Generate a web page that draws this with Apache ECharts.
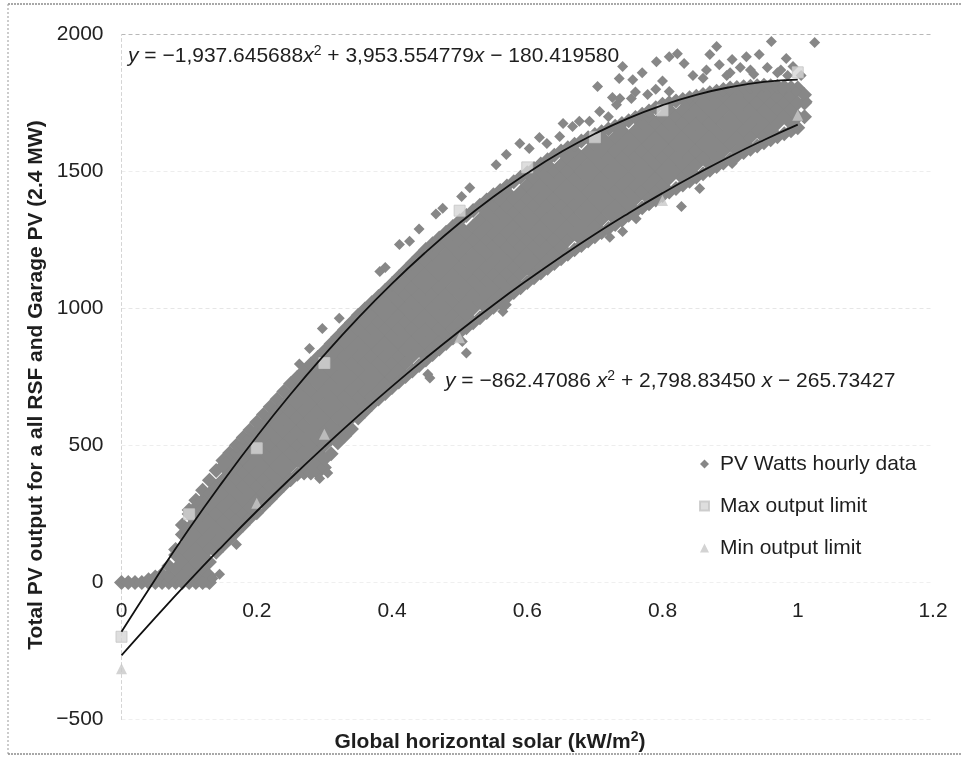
<!DOCTYPE html>
<html>
<head>
<meta charset="utf-8">
<title>Total PV output vs global horizontal solar</title>
<script src="https://cdn.jsdelivr.net/npm/echarts@6.0.0/dist/echarts.min.js"></script>
<style>
  html, body { margin: 0; padding: 0; background: #fff; }
  #chart { width: 961px; height: 758px; }
</style>
</head>
<body>
<div id="chart"></div>
<script>
// PV Watts hourly data, dense cloud read column by column: [solar, output, output, ...]
const pvColumns = [
  [0.00, 0], [0.01, 0], [0.02, 0], [0.03, 0], [0.04, 0, 10], [0.05, 0, 20],
  [0.06, 0, 30], [0.07, 0, 25, 60], [0.08, 0, 50, 100, 120],
  [0.09, 0, 25, 75, 125, 175, 210],
  [0.10, 0, 50, 100, 150, 200, 250, 265],
  [0.11, 0, 25, 75, 125, 175, 225, 275, 300],
  [0.12, 0, 50, 100, 150, 200, 250, 300, 337],
  [0.13, 0, 25, 75, 125, 175, 225, 275, 325, 373],
  [0.14, 110, 150, 200, 250, 300, 350, 409],
  [0.15, 135, 175, 225, 275, 325, 375, 425, 445],
  [0.16, 160, 200, 250, 300, 350, 400, 450, 473],
  [0.17, 185, 225, 275, 325, 375, 425, 475, 501],
  [0.18, 210, 250, 300, 350, 400, 450, 500, 529],
  [0.19, 235, 275, 325, 375, 425, 475, 525, 557],
  [0.20, 255, 300, 350, 400, 450, 500, 550, 585],
  [0.21, 280, 325, 375, 425, 475, 525, 575, 613],
  [0.22, 305, 350, 400, 450, 500, 550, 600, 641],
  [0.23, 330, 375, 425, 475, 525, 575, 625, 669],
  [0.24, 355, 400, 450, 500, 550, 600, 650, 697],
  [0.25, 375, 425, 475, 525, 575, 625, 675, 725],
  [0.26, 395, 450, 500, 550, 600, 650, 700, 749],
  [0.27, 400, 425, 475, 525, 575, 625, 675, 725, 773],
  [0.28, 400, 450, 500, 550, 600, 650, 700, 750, 797],
  [0.29, 400, 425, 475, 525, 575, 625, 675, 725, 775, 821],
  [0.30, 420, 450, 500, 550, 600, 650, 700, 750, 800, 845],
  [0.31, 470, 525, 575, 625, 675, 725, 775, 825, 871],
  [0.32, 510, 550, 600, 650, 700, 750, 800, 850, 897],
  [0.33, 535, 575, 625, 675, 725, 775, 825, 875, 923],
  [0.34, 560, 600, 650, 700, 750, 800, 850, 900, 949],
  [0.35, 600, 625, 675, 725, 775, 825, 875, 925, 975],
  [0.36, 625, 650, 700, 750, 800, 850, 900, 950, 998],
  [0.37, 650, 675, 725, 775, 825, 875, 925, 975, 1021],
  [0.38, 670, 700, 750, 800, 850, 900, 950, 1000, 1044],
  [0.39, 690, 725, 775, 825, 875, 925, 975, 1025, 1067],
  [0.40, 712, 750, 800, 850, 900, 950, 1000, 1050, 1090],
  [0.41, 732, 775, 825, 875, 925, 975, 1025, 1075, 1115],
  [0.42, 752, 800, 850, 900, 950, 1000, 1050, 1100, 1140],
  [0.43, 772, 825, 875, 925, 975, 1025, 1075, 1125, 1165],
  [0.44, 792, 850, 900, 950, 1000, 1050, 1100, 1150, 1190],
  [0.45, 812, 825, 875, 925, 975, 1025, 1075, 1125, 1175, 1215],
  [0.46, 832, 850, 900, 950, 1000, 1050, 1100, 1150, 1200, 1236],
  [0.47, 852, 875, 925, 975, 1025, 1075, 1125, 1175, 1225, 1257],
  [0.48, 872, 900, 950, 1000, 1050, 1100, 1150, 1200, 1250, 1278],
  [0.49, 892, 925, 975, 1025, 1075, 1125, 1175, 1225, 1275, 1299],
  [0.50, 912, 950, 1000, 1050, 1100, 1150, 1200, 1250, 1300, 1320],
  [0.51, 930, 975, 1025, 1075, 1125, 1175, 1225, 1275, 1339],
  [0.52, 948, 1000, 1050, 1100, 1150, 1200, 1250, 1300, 1358],
  [0.53, 966, 1025, 1075, 1125, 1175, 1225, 1275, 1325, 1377],
  [0.54, 985, 1000, 1050, 1100, 1150, 1200, 1250, 1300, 1350, 1396],
  [0.55, 1005, 1025, 1075, 1125, 1175, 1225, 1275, 1325, 1375, 1415],
  [0.56, 1022, 1050, 1100, 1150, 1200, 1250, 1300, 1350, 1400, 1431],
  [0.57, 1040, 1075, 1125, 1175, 1225, 1275, 1325, 1375, 1425, 1447],
  [0.58, 1058, 1100, 1150, 1200, 1250, 1300, 1350, 1400, 1463],
  [0.59, 1076, 1125, 1175, 1225, 1275, 1325, 1375, 1425, 1479],
  [0.60, 1095, 1150, 1200, 1250, 1300, 1350, 1400, 1450, 1495],
  [0.61, 1112, 1125, 1175, 1225, 1275, 1325, 1375, 1425, 1475, 1511],
  [0.62, 1130, 1150, 1200, 1250, 1300, 1350, 1400, 1450, 1500, 1527],
  [0.63, 1147, 1175, 1225, 1275, 1325, 1375, 1425, 1475, 1525, 1543],
  [0.64, 1164, 1200, 1250, 1300, 1350, 1400, 1450, 1500, 1559],
  [0.65, 1182, 1225, 1275, 1325, 1375, 1425, 1475, 1525, 1575],
  [0.66, 1198, 1250, 1300, 1350, 1400, 1450, 1500, 1550, 1587],
  [0.67, 1214, 1275, 1325, 1375, 1425, 1475, 1525, 1575, 1599],
  [0.68, 1230, 1250, 1300, 1350, 1400, 1450, 1500, 1550, 1611],
  [0.69, 1246, 1275, 1325, 1375, 1425, 1475, 1525, 1575, 1623],
  [0.70, 1262, 1300, 1350, 1400, 1450, 1500, 1550, 1600, 1635],
  [0.71, 1277, 1325, 1375, 1425, 1475, 1525, 1575, 1625, 1645],
  [0.72, 1292, 1350, 1400, 1450, 1500, 1550, 1600, 1655],
  [0.73, 1307, 1325, 1375, 1425, 1475, 1525, 1575, 1625, 1665],
  [0.74, 1322, 1350, 1400, 1450, 1500, 1550, 1600, 1650, 1675],
  [0.75, 1340, 1375, 1425, 1475, 1525, 1575, 1625, 1685],
  [0.76, 1354, 1400, 1450, 1500, 1550, 1600, 1650, 1697],
  [0.77, 1368, 1425, 1475, 1525, 1575, 1625, 1675, 1709],
  [0.78, 1382, 1400, 1450, 1500, 1550, 1600, 1650, 1700, 1721],
  [0.79, 1396, 1425, 1475, 1525, 1575, 1625, 1675, 1733],
  [0.80, 1412, 1450, 1500, 1550, 1600, 1650, 1700, 1745],
  [0.81, 1425, 1475, 1525, 1575, 1625, 1675, 1725, 1751],
  [0.82, 1438, 1500, 1550, 1600, 1650, 1700, 1757],
  [0.83, 1451, 1475, 1525, 1575, 1625, 1675, 1725, 1763],
  [0.84, 1464, 1500, 1550, 1600, 1650, 1700, 1750, 1769],
  [0.85, 1480, 1525, 1575, 1625, 1675, 1725, 1775],
  [0.86, 1492, 1550, 1600, 1650, 1700, 1750, 1781],
  [0.87, 1505, 1525, 1575, 1625, 1675, 1725, 1775, 1787],
  [0.88, 1518, 1550, 1600, 1650, 1700, 1750, 1793],
  [0.89, 1531, 1575, 1625, 1675, 1725, 1775, 1799],
  [0.90, 1545, 1600, 1650, 1700, 1750, 1800, 1805],
  [0.91, 1557, 1575, 1625, 1675, 1725, 1775, 1807],
  [0.92, 1569, 1600, 1650, 1700, 1750, 1800, 1809],
  [0.93, 1581, 1625, 1675, 1725, 1775, 1811],
  [0.94, 1593, 1650, 1700, 1750, 1800, 1813],
  [0.95, 1605, 1625, 1675, 1725, 1775, 1815],
  [0.96, 1616, 1650, 1700, 1750, 1800, 1813],
  [0.97, 1627, 1675, 1725, 1775, 1811],
  [0.98, 1638, 1700, 1750, 1800, 1809],
  [0.99, 1649, 1675, 1725, 1775, 1807],
  [1.00, 1660, 1700, 1750, 1800, 1805],
  [1.01, 1700, 1750, 1780]
];

// PV Watts hourly data, loose points around the cloud: [solar, output]
const pvLoose = [
  [0.125, 0], [0.135, 15], [0.145, 30], [0.170, 139],
  [0.263, 797], [0.278, 854], [0.297, 927], [0.322, 964], [0.382, 1135],
  [0.390, 1150], [0.411, 1234], [0.426, 1245], [0.440, 1290], [0.465, 1345],
  [0.475, 1366], [0.503, 1409], [0.515, 1441], [0.554, 1525], [0.569, 1562],
  [0.589, 1602], [0.603, 1584], [0.618, 1624], [0.629, 1602], [0.648, 1628],
  [0.653, 1675], [0.667, 1664], [0.677, 1683], [0.692, 1683], [0.704, 1810],
  [0.707, 1719], [0.720, 1700], [0.726, 1770], [0.732, 1744], [0.737, 1766],
  [0.736, 1839], [0.741, 1883], [0.754, 1766], [0.756, 1835], [0.760, 1790],
  [0.770, 1860], [0.778, 1781], [0.790, 1800], [0.791, 1901], [0.800, 1830],
  [0.810, 1919], [0.810, 1792], [0.822, 1930], [0.832, 1894], [0.845, 1850],
  [0.859, 2073], [0.860, 1840], [0.865, 1870], [0.870, 1927], [0.880, 1956],
  [0.884, 1890], [0.895, 1850], [0.900, 1860], [0.903, 1909], [0.915, 1880],
  [0.924, 1919], [0.930, 1870], [0.935, 1855], [0.943, 1927], [0.949, 2040],
  [0.955, 1880], [0.961, 1974], [0.963, 2011], [0.970, 1860], [0.975, 1870],
  [0.983, 1912], [0.985, 1850], [0.993, 1883], [0.998, 1792], [1.005, 1850],
  [1.014, 1755], [1.025, 1971],
  [0.293, 380], [0.305, 400], [0.453, 760], [0.456, 746], [0.504, 880],
  [0.510, 838], [0.564, 989], [0.569, 1014], [0.722, 1260], [0.741, 1281],
  [0.761, 1328], [0.781, 1379], [0.828, 1372], [0.855, 1438], [0.874, 1511],
  [0.903, 1529]
];

const maxLimit = [[0, -198], [0.1, 249], [0.2, 490], [0.3, 801], [0.5, 1357],
  [0.6, 1515], [0.7, 1625], [0.8, 1723], [1.0, 1862]];
const minLimit = [[0, -315], [0.2, 289], [0.3, 541], [0.5, 893], [0.8, 1394], [1.0, 1705]];

// fitted trend lines, read at every 0.05 of solar
const fitX = [0, 0.05, 0.1, 0.15, 0.2, 0.25, 0.3, 0.35, 0.4, 0.45, 0.5,
  0.55, 0.6, 0.65, 0.7, 0.75, 0.8, 0.85, 0.9, 0.95, 1.0];
const maxFit = [-180, 12, 196, 369, 533, 687, 831, 966, 1091, 1206, 1312,
  1408, 1494, 1571, 1638, 1695, 1742, 1780, 1808, 1827, 1835];
const minFit = [-266, -128, 6, 135, 260, 380, 496, 608, 716, 819, 918,
  1013, 1103, 1189, 1271, 1348, 1421, 1490, 1555, 1615, 1671];

const FONT = '"Liberation Sans", Arial, Helvetica, sans-serif';
const TEXT = '#1e1e1e';

let pvData = [];
pvColumns.forEach(col => {
  for (let i = 1; i < col.length; i++) pvData.push([col[0], col[i]]);
});
pvLoose.forEach(p => pvData.push({ value: p, symbolSize: 11 }));

let myChart = echarts.init(document.getElementById('chart'));

const richEq = {
  i: { fontStyle: 'italic', fontSize: 21, fontFamily: FONT, fill: TEXT, lineHeight: 24 },
  s: { fontSize: 14, fontFamily: FONT, fill: TEXT, verticalAlign: 'top', lineHeight: 18 }
};

let option = {
  animation: false,
  backgroundColor: '#fff',
  grid: {
    left: 121.5,
    right: 28,
    top: 34.5,
    bottom: 38.5,
    containLabel: false,
    outerBoundsMode: 'none'
  },
  legend: {
    orient: 'vertical',
    left: 694,
    top: 448,
    itemWidth: 9,
    itemHeight: 9,
    itemGap: 20,
    data: ['PV Watts hourly data', 'Max output limit', 'Min output limit'],
    textStyle: { fontSize: 21, color: TEXT, fontFamily: FONT, lineHeight: 22, padding: [0, 0, 0, 6] }
  },
  xAxis: {
    type: 'value',
    min: 0,
    max: 1.2,
    interval: 0.2,
    // labels sit under the y = 0 line: move the bottom axis up by 137 px
    offset: -137,
    axisLine: { show: false, onZero: false },
    axisTick: { show: false },
    splitLine: { show: false },
    axisLabel: { fontSize: 21, color: '#222', fontFamily: FONT, margin: 18 }
  },
  yAxis: {
    type: 'value',
    min: -500,
    max: 2000,
    interval: 500,
    axisLine: { show: true, onZero: false, lineStyle: { color: '#d4d4d4', type: [3, 3], width: 1 } },
    axisTick: { show: false },
    splitLine: {
      show: true,
      lineStyle: {
        color: ['#efefef', '#efefef', '#ededed', '#e6e6e6', '#ededed', '#b8b8b8'],
        type: [4, 3]
      }
    },
    axisLabel: {
      fontSize: 21, color: '#222', fontFamily: FONT, margin: 18,
      formatter: v => String(v).replace('-', '\u2212')
    }
  },
  series: [
    {
      name: 'PV Watts hourly data',
      type: 'scatter',
      symbol: 'diamond',
      symbolSize: 15,
      itemStyle: { color: '#878787', opacity: 1 },
      emphasis: { disabled: true },
      silent: true,
      data: pvData
    },
    {
      name: 'Max output limit',
      type: 'scatter',
      symbol: 'rect',
      symbolSize: 11,
      itemStyle: { color: '#d6d6d6', borderColor: '#c4c4c4', borderWidth: 1 },
      emphasis: { disabled: true },
      silent: true,
      data: maxLimit
    },
    {
      name: 'Min output limit',
      type: 'scatter',
      symbol: 'triangle',
      symbolSize: 11,
      itemStyle: { color: '#c8c8c8' },
      emphasis: { disabled: true },
      silent: true,
      data: minLimit
    },
    {
      name: 'max fit',
      type: 'line',
      smooth: true,
      showSymbol: false,
      silent: true,
      z: 5,
      lineStyle: { color: '#111', width: 1.8 },
      data: fitX.map((x, i) => [x, maxFit[i]])
    },
    {
      name: 'min fit',
      type: 'line',
      smooth: true,
      showSymbol: false,
      silent: true,
      z: 5,
      lineStyle: { color: '#111', width: 1.8 },
      data: fitX.map((x, i) => [x, minFit[i]])
    }
  ],
  graphic: [
    // scanned page frame
    { type: 'line', shape: { x1: 8, y1: 4, x2: 961, y2: 4 }, style: { stroke: '#8c8c8c', lineWidth: 1.5, lineDash: [2, 1] } },
    { type: 'line', shape: { x1: 8, y1: 4, x2: 8, y2: 754 }, style: { stroke: '#9a9a9a', lineWidth: 1, lineDash: [2, 2] } },
    { type: 'line', shape: { x1: 8, y1: 754, x2: 961, y2: 754 }, style: { stroke: '#8c8c8c', lineWidth: 1.5, lineDash: [2, 1] } },
    {
      type: 'text', x: 36, y: 385, rotation: Math.PI / 2,
      style: {
        text: 'Total PV output for a all RSF and Garage PV (2.4 MW)',
        fontSize: 21, fontWeight: 'bold', fontFamily: FONT, fill: TEXT,
        align: 'center', verticalAlign: 'middle'
      }
    },
    {
      type: 'text', x: 490, y: 742,
      style: {
        text: 'Global horizontal solar (kW/m{s|2})',
        fontSize: 21, fontWeight: 'bold', fontFamily: FONT, fill: TEXT, lineHeight: 24,
        align: 'center', verticalAlign: 'middle',
        rich: { s: { fontSize: 14, fontWeight: 'bold', fontFamily: FONT, fill: TEXT, verticalAlign: 'top', lineHeight: 18 } }
      }
    },
    {
      type: 'text', x: 128, y: 56,
      style: {
        text: '{i|y} = \u22121,937.645688{i|x}{s|2} + 3,953.554779{i|x} \u2212 180.419580',
        fontSize: 21, fontFamily: FONT, fill: TEXT, lineHeight: 24,
        align: 'left', verticalAlign: 'middle', rich: richEq
      }
    },
    {
      type: 'text', x: 445, y: 381,
      style: {
        text: '{i|y} = \u2212862.47086 {i|x}{s|2} + 2,798.83450 {i|x} \u2212 265.73427',
        fontSize: 21, fontFamily: FONT, fill: TEXT, lineHeight: 24,
        align: 'left', verticalAlign: 'middle', rich: richEq
      }
    }
  ]
};

myChart.setOption(option);
window.addEventListener('resize', () => {
  myChart.resize();
});
</script>
</body>
</html>
